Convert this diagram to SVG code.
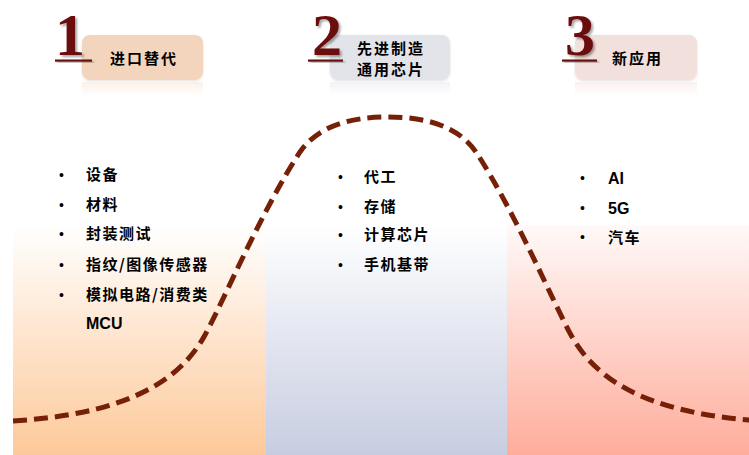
<svg xmlns="http://www.w3.org/2000/svg" width="749" height="455" viewBox="0 0 749 455">
<style>
.num{font-family:"Liberation Serif","Times New Roman",serif;font-weight:bold;font-size:60px;fill:#6B0A0A;text-anchor:middle}
.lbl{font-family:"Noto Sans CJK SC","Liberation Sans",sans-serif;font-weight:bold;font-size:15px;fill:#000;letter-spacing:2px}
.item{font-family:"Noto Sans CJK SC","Liberation Sans",sans-serif;font-weight:bold;font-size:15px;fill:#000;letter-spacing:1.5px}
.lat{font-family:"Liberation Sans",Arial,sans-serif;font-weight:bold;font-size:16px;fill:#000}
.bul{font-family:"Liberation Sans",Arial,sans-serif;font-size:14px;fill:#000}
.uline{fill:#6B0A0A}
.curve{fill:none;stroke:#762107;stroke-width:5;stroke-dasharray:14 7}
</style>
<defs>
<linearGradient id="g1" x1="0" y1="0" x2="0" y2="1">
<stop offset="0" stop-color="#FFFFFF"/>
<stop offset="1" stop-color="#FDC99A"/>
</linearGradient>
<linearGradient id="g2" x1="0" y1="0" x2="0" y2="1">
<stop offset="0" stop-color="#FFFFFF"/>
<stop offset="1" stop-color="#C7CDE1"/>
</linearGradient>
<linearGradient id="g3" x1="0" y1="0" x2="0" y2="1">
<stop offset="0" stop-color="#FFF9F8"/>
<stop offset="1" stop-color="#FEAD9B"/>
</linearGradient>
<linearGradient id="r1" x1="0" y1="0" x2="0" y2="1">
<stop offset="0" stop-color="#F3D5BD" stop-opacity="0.35"/>
<stop offset="1" stop-color="#F3D5BD" stop-opacity="0"/>
</linearGradient>
<linearGradient id="r2" x1="0" y1="0" x2="0" y2="1">
<stop offset="0" stop-color="#E2E4EA" stop-opacity="0.45"/>
<stop offset="1" stop-color="#E2E4EA" stop-opacity="0"/>
</linearGradient>
<linearGradient id="r3" x1="0" y1="0" x2="0" y2="1">
<stop offset="0" stop-color="#F2E0DC" stop-opacity="0.45"/>
<stop offset="1" stop-color="#F2E0DC" stop-opacity="0"/>
</linearGradient>
<filter id="sh" x="-20%" y="-20%" width="150%" height="150%">
<feDropShadow dx="2" dy="2" stdDeviation="1.2" flood-color="#000" flood-opacity="0.35"/>
</filter>
<filter id="bs" x="-10%" y="-10%" width="120%" height="130%">
<feDropShadow dx="0" dy="1" stdDeviation="1" flood-color="#000" flood-opacity="0.12"/>
</filter>
</defs>

<g id="backgrounds">
<rect x="13" y="225" width="253" height="230" fill="url(#g1)"/>
<rect x="266" y="225" width="241" height="230" fill="url(#g2)"/>
<rect x="507" y="225" width="242" height="230" fill="url(#g3)"/>
</g>

<g id="connectors">
<path class="curve" d="M13,421 C110,415 175,390 205,335 C223,302 262,210 300,152 C318,126 350,117 388,117 C426,117 458,126 476,152 C514,210 553,302 571,335 C601,390 666,415 763,421"/>
</g>

<g id="stage1">
<rect x="82" y="82" width="121" height="14" fill="url(#r1)"/>
<rect x="82" y="35" width="121" height="45" rx="8" fill="#F3D5BD" filter="url(#bs)"/>
<text class="num" x="70" y="55" filter="url(#sh)">1</text>
<rect class="uline" x="55" y="59.5" width="37" height="2.2" filter="url(#sh)"/>
<text class="lbl" x="110" y="64">进口替代</text>
</g>

<g id="stage2">
<rect x="330" y="82" width="120" height="14" fill="url(#r2)"/>
<rect x="330" y="35" width="120" height="45" rx="8" fill="#E2E4EA" filter="url(#bs)"/>
<text class="num" x="327" y="55" filter="url(#sh)">2</text>
<rect class="uline" x="308" y="59.5" width="35" height="2.2" filter="url(#sh)"/>
<text class="lbl" x="357" y="54">先进制造</text>
<text class="lbl" x="357" y="75">通用芯片</text>
</g>

<g id="stage3">
<rect x="575" y="82" width="122" height="14" fill="url(#r3)"/>
<rect x="575" y="35" width="122" height="45" rx="8" fill="#F2E0DC" filter="url(#bs)"/>
<text class="num" x="580" y="55" filter="url(#sh)">3</text>
<rect class="uline" x="562" y="59.5" width="35" height="2.2" filter="url(#sh)"/>
<text class="lbl" x="612" y="64">新应用</text>
</g>

<g id="list1">
<text class="bul" x="59" y="180">•</text><text class="item" x="86" y="180">设备</text>
<text class="bul" x="59" y="210">•</text><text class="item" x="86" y="210">材料</text>
<text class="bul" x="59" y="239">•</text><text class="item" x="86" y="239">封装测试</text>
<text class="bul" x="59" y="270">•</text><text class="item" x="86" y="270">指纹/图像传感器</text>
<text class="bul" x="59" y="300">•</text><text class="item" x="86" y="300">模拟电路/消费类</text>
<text class="lat" x="86" y="329">MCU</text>
</g>

<g id="list2">
<text class="bul" x="338" y="182">•</text><text class="item" x="364" y="182">代工</text>
<text class="bul" x="338" y="212">•</text><text class="item" x="364" y="212">存储</text>
<text class="bul" x="338" y="240">•</text><text class="item" x="364" y="240">计算芯片</text>
<text class="bul" x="338" y="270">•</text><text class="item" x="364" y="270">手机基带</text>
</g>

<g id="list3">
<text class="bul" x="580" y="183">•</text><text class="lat" x="608" y="184">AI</text>
<text class="bul" x="580" y="213">•</text><text class="lat" x="608" y="214">5G</text>
<text class="bul" x="580" y="242">•</text><text class="item" x="608" y="243">汽车</text>
</g>
</svg>
